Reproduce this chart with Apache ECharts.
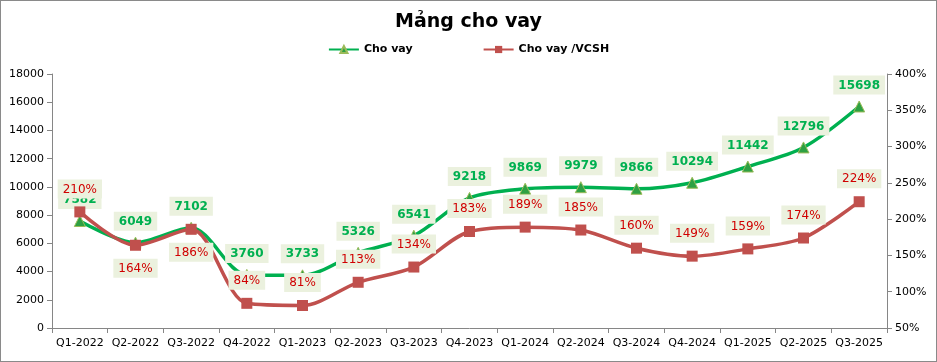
<!DOCTYPE html>
<html><head><meta charset="utf-8">
<script src="https://cdn.jsdelivr.net/npm/echarts@6/dist/echarts.min.js"></script>
<style>html,body{margin:0;padding:0;background:#fff}#c{width:937px;height:362px;box-sizing:border-box;border:1px solid #8a8a8a}</style>
</head><body><div id="c"></div>
<script>
const categories = ['Q1-2022','Q2-2022','Q3-2022','Q4-2022','Q1-2023','Q2-2023','Q3-2023','Q4-2023','Q1-2024','Q2-2024','Q3-2024','Q4-2024','Q1-2025','Q2-2025','Q3-2025'];
const loans = [7582,6049,7102,3760,3733,5326,6541,9218,9869,9979,9866,10294,11442,12796,15698];
const loanToEquity = [210,164,186,84,81,113,134,183,189,185,160,149,159,174,224];
const belowIdx = [1,2];
const leftTicks = {min:0,max:18000,interval:2000};
const rightTicks = {min:50,max:400,interval:50};

const chart = echarts.init(document.getElementById('c'));
const font = 'DejaVu Sans';
const labelBox = {backgroundColor:'#EBF1DE',padding:[4,5,3,5],fontSize:12,fontFamily:font};
chart.setOption({
  animation:false,
  title:{text:'Mảng cho vay',left:'center',top:7,textStyle:{fontSize:19,fontWeight:'bold',fontFamily:font,color:'#000'}},
  legend:{top:38,left:'center',itemGap:70,itemWidth:30,itemHeight:9,textStyle:{fontSize:11,fontWeight:'bold',fontFamily:font,color:'#000'},
    data:['Cho vay','Cho vay /VCSH']},
  grid:{left:51,right:49,top:73,bottom:33},
  xAxis:{type:'category',data:categories,boundaryGap:true,
    axisLine:{lineStyle:{color:'#868686'}},axisTick:{show:true,alignWithLabel:false,lineStyle:{color:'#868686'}},
    axisLabel:{color:'#000',fontSize:11,fontFamily:font,margin:10,interval:0}},
  yAxis:[
    {type:'value',min:leftTicks.min,max:leftTicks.max,interval:leftTicks.interval,splitLine:{show:false},
     axisLine:{show:true,lineStyle:{color:'#868686'}},axisTick:{show:true,lineStyle:{color:'#868686'}},
     axisLabel:{color:'#000',fontSize:11,fontFamily:font,formatter:v=>String(v)}},
    {type:'value',min:rightTicks.min,max:rightTicks.max,interval:rightTicks.interval,splitLine:{show:false},position:'right',
     axisLine:{show:true,lineStyle:{color:'#868686'}},axisTick:{show:true,lineStyle:{color:'#868686'}},
     axisLabel:{color:'#000',fontSize:11,fontFamily:font,formatter:'{value}%'}}
  ],
  series:[
    {name:'Cho vay',type:'line',smooth:0.3,yAxisIndex:0,data:loans,symbol:'triangle',symbolSize:11,
     lineStyle:{color:'#00B050',width:3.5},itemStyle:{color:'#2EA043',borderColor:'#9BBB59',borderWidth:1},
     label:Object.assign({show:true,position:'top',distance:6,color:'#00B050',fontWeight:'bold'},labelBox),z:3},
    {name:'Cho vay /VCSH',type:'line',smooth:0.3,yAxisIndex:1,
     data:loanToEquity.map((v,i)=>belowIdx.includes(i)?{value:v,label:{position:'bottom',distance:8}}:v),
     symbol:'rect',symbolSize:11,
     lineStyle:{color:'#C0504D',width:3.5},itemStyle:{color:'#C0504D'},
     label:Object.assign({show:true,position:'top',distance:8,color:'#D00000',formatter:'{c}%'},labelBox),z:4}
  ]
});
</script></body></html>
